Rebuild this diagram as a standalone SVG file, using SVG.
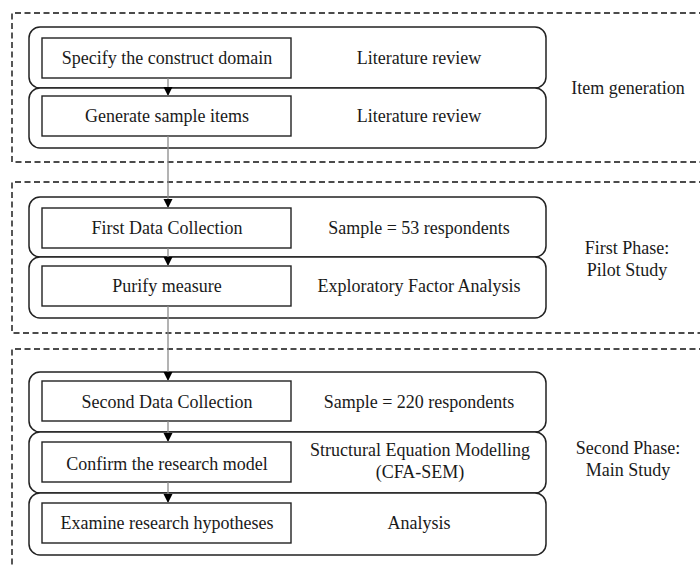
<svg xmlns="http://www.w3.org/2000/svg" width="700" height="566" viewBox="0 0 700 566">
<defs>
<style>
text{font-family:"Liberation Serif","Times New Roman",serif;font-size:18px;fill:#1a1a1a;text-anchor:middle;dominant-baseline:central}
.phase{fill:none;stroke:#111;stroke-width:1.4;stroke-dasharray:6 3.5}
.group{fill:#fff;stroke:#222;stroke-width:1.5}
.step{fill:#fff;stroke:#222;stroke-width:1.4}
.conn{stroke:#8a8a8a;stroke-width:1.3;fill:none}
</style>
<marker id="ah" viewBox="0 0 10 10" refX="10" refY="5" markerWidth="9" markerHeight="10" markerUnits="userSpaceOnUse" orient="auto">
<path d="M0,0 L10,5 L0,10 Z" fill="#000"/>
</marker>
</defs>
<rect width="700" height="566" fill="#fff"/>

<g id="phase-item-generation">
<path class="phase" d="M705,13 H12 V162 H705"/>
<text x="628" y="88">Item generation</text>
</g>
<g id="phase-pilot">
<path class="phase" d="M705,182 H12 V333 H705"/>
<text x="627" y="248">First Phase:</text>
<text x="627" y="270">Pilot Study</text>
</g>
<g id="phase-main">
<path class="phase" d="M705,349 H12 V570"/>
<text x="628" y="448">Second Phase:</text>
<text x="628" y="470">Main Study</text>
</g>

<g id="row-specify">
<rect class="group" x="29" y="27" width="517" height="61" rx="11"/>
<rect class="step" x="42" y="38" width="249" height="40"/>
<text x="167" y="58">Specify the construct domain</text>
<text x="419" y="58">Literature review</text>
</g>
<g id="row-generate">
<rect class="group" x="29" y="88" width="517" height="60" rx="11"/>
<rect class="step" x="42" y="96" width="249" height="40"/>
<text x="167" y="116">Generate sample items</text>
<text x="419" y="116">Literature review</text>
</g>

<g id="row-first-collection">
<rect class="group" x="29" y="197" width="517" height="60" rx="11"/>
<rect class="step" x="42" y="208" width="249" height="40"/>
<text x="167" y="228">First Data Collection</text>
<text x="419" y="228">Sample = 53 respondents</text>
</g>
<g id="row-purify">
<rect class="group" x="29" y="257" width="517" height="61" rx="11"/>
<rect class="step" x="42" y="266" width="249" height="40"/>
<text x="167" y="286">Purify measure</text>
<text x="419" y="286">Exploratory Factor Analysis</text>
</g>

<g id="row-second-collection">
<rect class="group" x="29" y="372" width="517" height="60" rx="11"/>
<rect class="step" x="42" y="381" width="249" height="40"/>
<text x="167" y="402">Second Data Collection</text>
<text x="419" y="402">Sample = 220 respondents</text>
</g>
<g id="row-confirm">
<rect class="group" x="29" y="432" width="517" height="61" rx="11"/>
<rect class="step" x="42" y="442" width="249" height="40"/>
<text x="167" y="464">Confirm the research model</text>
<text x="420" y="450">Structural Equation Modelling</text>
<text x="420" y="472">(CFA-SEM)</text>
</g>
<g id="row-examine">
<rect class="group" x="29" y="493" width="517" height="62" rx="11"/>
<rect class="step" x="42" y="503" width="249" height="40"/>
<text x="167" y="523">Examine research hypotheses</text>
<text x="419" y="523">Analysis</text>
</g>

<g id="connectors">
<line class="conn" x1="168" y1="78" x2="168" y2="96" marker-end="url(#ah)"/>
<line class="conn" x1="168" y1="136" x2="168" y2="208" marker-end="url(#ah)"/>
<line class="conn" x1="168" y1="248" x2="168" y2="266" marker-end="url(#ah)"/>
<line class="conn" x1="168" y1="306" x2="168" y2="381" marker-end="url(#ah)"/>
<line class="conn" x1="168" y1="421" x2="168" y2="442" marker-end="url(#ah)"/>
<line class="conn" x1="168" y1="482" x2="168" y2="503" marker-end="url(#ah)"/>
</g>
</svg>
